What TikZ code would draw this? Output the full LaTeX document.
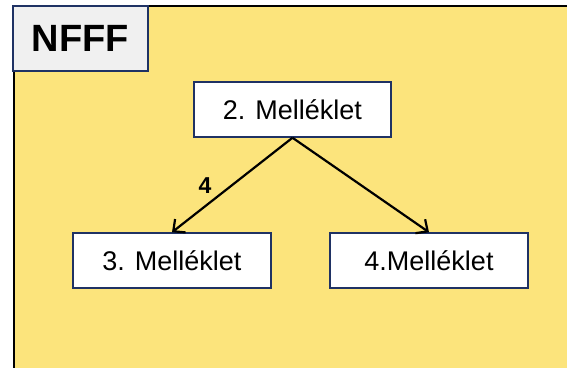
\documentclass[tikz,border=0pt]{standalone}
\usepackage{fontspec}
\setmainfont{Liberation Sans}
\usetikzlibrary{arrows.meta}
\definecolor{bgyellow}{RGB}{252,228,124}
\definecolor{boxgray}{RGB}{240,240,240}
\definecolor{boxline}{RGB}{31,50,100}
\tikzset{
  mbox/.style={draw=boxline, line width=1.5pt, fill=white, minimum width=197pt, minimum height=55pt, inner sep=0pt, font=\fontsize{27}{30}\selectfont},
  link/.style={line width=2.2pt, -{Straight Barb[length=9pt,width=17pt,line width=2.2pt]}}
}
\begin{document}
\begin{tikzpicture}[x=1pt,y=-1pt]
	\useasboundingbox (0, 0) rectangle (567, 367);
	\begin{scope}
	\clip (0, 0) rectangle (567, 367);
	\draw[line width=2.2pt, fill=bgyellow] (14, 6) rectangle (580, 380);
	\end{scope}

	\node[draw=boxline, line width=1.8pt, fill=boxgray, minimum width=135pt, minimum height=65pt, inner sep=0pt, font=\bfseries\fontsize{38}{40}\selectfont]
		(title)	at (80.5, 38.5) {NFFF};

	\node[mbox]		(m2)	at (292.5, 109.5)	{2. Melléklet};
	\node[mbox, minimum width=198pt]	(m3)	at (172, 260.5)	{3. Melléklet};
	\node[mbox, minimum width=198pt]	(m4)	at (429, 260.5)	{4.Melléklet};

	\draw[link] (m2.south) -- (m3.north);
	\draw[link] (m2.south) -- (m4.north);

	\node[font=\bfseries\fontsize{23}{25}\selectfont]	(num)	at (205, 186)	{4};
\end{tikzpicture}
\end{document}
